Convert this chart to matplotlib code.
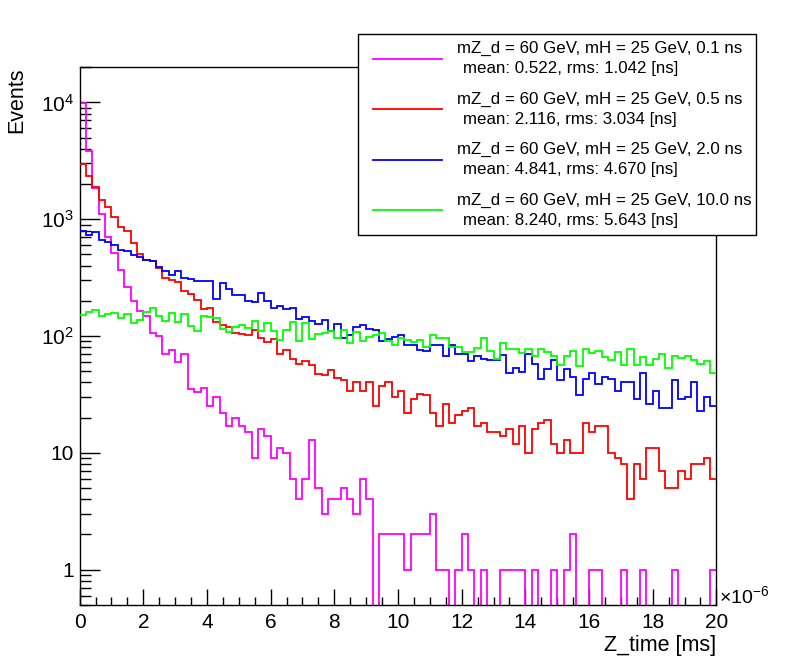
from matplotlib import pyplot as plt
from matplotlib.lines import Line2D
from matplotlib.patches import Rectangle
from matplotlib.ticker import MultipleLocator, LogLocator, FuncFormatter, NullFormatter
import numpy as np
import math

plt.rcParams['font.family'] = ['Liberation Sans', 'DejaVu Sans']
plt.rcParams['mathtext.fontset'] = 'custom'
plt.rcParams['mathtext.rm'] = 'Liberation Sans'
plt.rcParams['mathtext.it'] = 'Liberation Sans:italic'

# histogram binning: 100 bins, 0 - 20 (x 1e-6 ms)
n_bins = 100
x_min = 0
x_max = 20

# events per bin
ev_0p1ns = [9800, 3850, 1850, 1107, 699, 509, 367, 261, 200, 165,
            147, 106, 100, 70, 76, 60, 70, 35, 33, 36,
            25, 30, 22, 17, 20, 17, 15, 9, 16, 14,
            9, 11, 10, 6, 4, 6, 13, 5, 3, 4,
            4, 5, 4, 3, 6, 4, 0, 2, 2, 2,
            2, 1, 2, 2, 2, 3, 1, 1, 0, 1,
            2, 1, 0, 1, 0, 0, 1, 1, 1, 1,
            0, 1, 0, 0, 1, 0, 1, 2, 0, 0,
            1, 1, 0, 0, 0, 1, 0, 0, 1, 0,
            0, 0, 0, 1, 0, 0, 0, 0, 0, 1]

ev_0p5ns = [2960, 2350, 1870, 1460, 1280, 1036, 850, 797, 621, 503,
            447, 441, 382, 314, 301, 288, 241, 229, 203, 170,
            174, 131, 124, 120, 107, 104, 103, 113, 97, 89,
            94, 70, 76, 63, 58, 61, 56, 47, 46, 51,
            44, 42, 34, 40, 34, 40, 25, 37, 40, 30,
            34, 22, 29, 32, 31, 22, 17, 26, 18, 21,
            23, 24, 17, 18, 15, 15, 14, 16, 12, 17,
            10, 16, 18, 19, 12, 10, 13, 10, 10, 18,
            15, 17, 17, 10, 9, 8, 4, 8, 6, 11,
            11, 7, 5, 5, 7, 6, 8, 8, 9, 6]

ev_2p0ns = [785, 736, 776, 663, 641, 604, 544, 534, 496, 471,
            450, 441, 392, 362, 335, 362, 314, 307, 293, 293,
            293, 207, 282, 251, 226, 226, 200, 195, 233, 198,
            174, 181, 170, 174, 140, 146, 135, 127, 137, 111,
            127, 96, 101, 119, 124, 115, 113, 91, 94, 99,
            101, 83, 83, 76, 75, 83, 83, 67, 83, 70,
            70, 61, 67, 63, 62, 62, 69, 48, 53, 49,
            70, 58, 43, 52, 62, 42, 52, 45, 31, 43,
            48, 39, 45, 43, 34, 40, 40, 29, 48, 26,
            34, 24, 24, 42, 29, 30, 40, 23, 30, 25]

ev_10ns = [151, 159, 167, 149, 154, 157, 143, 154, 129, 137,
           160, 175, 148, 134, 157, 132, 154, 121, 110, 148,
           146, 143, 115, 109, 119, 124, 117, 134, 111, 129,
           111, 92, 113, 132, 91, 129, 94, 104, 107, 110,
           96, 113, 87, 109, 91, 99, 101, 106, 91, 84,
           96, 93, 89, 92, 80, 102, 96, 96, 81, 81,
           73, 73, 79, 97, 75, 64, 87, 77, 77, 72,
           77, 67, 77, 73, 67, 57, 67, 75, 55, 77,
           72, 74, 66, 62, 73, 56, 77, 57, 66, 57,
           64, 70, 53, 67, 65, 67, 62, 58, 61, 48]

lifetimes = ["0.1", "0.5", "2.0", "10.0"]
means = [0.522, 2.116, 4.841, 8.240]
rmss = [1.042, 3.034, 4.670, 5.643]
colors = ['#ff00ff', '#ff0000', '#0000ff', '#00ff00']
series = [ev_0p1ns, ev_0p5ns, ev_2p0ns, ev_10ns]


fig = plt.figure(figsize=(7.96, 6.72), dpi=100)
ax = fig.add_axes([0.1, 0.1, 0.8, 0.8])

edges = np.linspace(x_min, x_max, n_bins + 1)
for i in range(len(series)):
    vals = np.array(series[i], dtype=float)
    # empty bins drop to the bottom of the frame like in ROOT
    vals = np.where(vals > 0, vals, 1e-3)
    ax.stairs(vals, edges, color=colors[i], lw=1.3, baseline=None, zorder=2 + i)

ax.set_yscale('log')
ax.set_xlim(x_min, x_max)
ax.set_ylim(0.5, 2e4)


def ylab(v, pos):
    p = int(round(math.log10(v)))
    if p == 0:
        return '1'
    if p == 1:
        return '10'
    return r'$\mathregular{10^{%d}}$' % p


ax.xaxis.set_major_locator(MultipleLocator(2))
ax.xaxis.set_minor_locator(MultipleLocator(0.5))
ax.yaxis.set_major_locator(LogLocator(base=10))
ax.yaxis.set_minor_locator(LogLocator(base=10, subs=range(2, 10)))
ax.yaxis.set_major_formatter(FuncFormatter(ylab))
ax.yaxis.set_minor_formatter(NullFormatter())

ax.tick_params(which='both', direction='in', top=False, right=False, width=1)
ax.tick_params(axis='x', which='major', length=11.5, labelsize=15, pad=6)
ax.tick_params(axis='x', which='minor', length=5.8)
ax.tick_params(axis='y', which='major', length=14.4, labelsize=15, pad=4)
ax.tick_params(axis='y', which='minor', length=7.9)
for s in ax.spines.values():
    s.set_linewidth(1)

ax.set_xlabel('Z_time [ms]', loc='right', fontsize=15.5, labelpad=2)
ax.set_ylabel('Events', loc='top', fontsize=15.5, labelpad=10)
fig.text(719 / 796, 1 - 603.5 / 672, '×$\\mathregular{10^{-6}}$', ha='left', va='baseline', fontsize=14)

# legend box (drawn by hand, it sticks out of the frame)
fig.add_artist(Rectangle((0.45, 0.65), 0.5, 0.3, transform=fig.transFigure,
                         facecolor='white', edgecolor='black', lw=1, zorder=10))
for i in range(len(series)):
    yc = 0.95 - 0.3 * (i + 0.5) / len(series)
    fig.add_artist(Line2D([0.4686, 0.5553], [yc, yc], transform=fig.transFigure,
                          color=colors[i], lw=1.3, zorder=11))
    fig.text(0.5745, yc + 0.0149, 'mZ_d = 60 GeV, mH = 25 GeV, ' + lifetimes[i] + ' ns',
             ha='left', va='center', fontsize=12.2, zorder=11)
    fig.text(0.5813, yc - 0.0149, 'mean: %.3f, rms: %.3f [ns]' % (means[i], rmss[i]),
             ha='left', va='center', fontsize=12.2, zorder=11)

plt.savefig('out.png', dpi=100)
